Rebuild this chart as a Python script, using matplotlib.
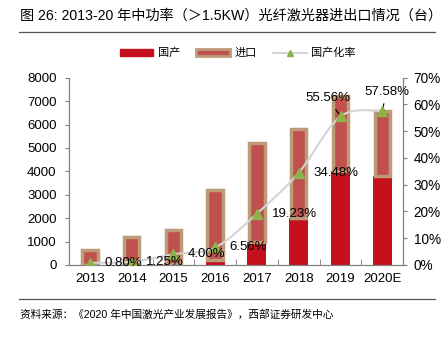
import numpy as np
import matplotlib
matplotlib.use("Agg")
import matplotlib.pyplot as plt
from matplotlib.path import Path
from matplotlib.patches import PathPatch, Patch
from matplotlib.lines import Line2D

plt.rcParams['font.family'] = ['Liberation Sans', 'Noto Sans CJK SC']

years = ['2013', '2014', '2015', '2016', '2017', '2018', '2019', '2020E']
domestic = [5, 15, 60, 210, 1000, 2000, 4000, 3800]
imports = [620, 1185, 1440, 2990, 4200, 3800, 3200, 2800]
rate = [0.80, 1.25, 4.00, 6.56, 19.23, 34.48, 55.56, 57.58]
rate_labels = ['0.80%', '1.25%', '4.00%', '6.56%', '19.23%', '34.48%', '55.56%', '57.58%']

RED = '#C4111D'
IMP = '#C0504D'
EDGE = '#BD9B77'
GREEN = '#8CB24A'
GRAY = '#808080'


def smooth_path(xs, ys):
    # catmull-rom style bezier through the points
    pts = np.column_stack([xs, ys])
    verts = [pts[0]]
    codes = [Path.MOVETO]
    n = len(pts)
    for i in range(n - 1):
        p0 = pts[max(i - 1, 0)]
        p1 = pts[i]
        p2 = pts[i + 1]
        p3 = pts[min(i + 2, n - 1)]
        c1 = p1 + (p2 - p0) / 6.0
        c2 = p2 - (p3 - p1) / 6.0
        verts += [c1, c2, p2]
        codes += [Path.CURVE4] * 3
    return Path(verts, codes)


fig = plt.figure(figsize=(4.45, 3.38), dpi=100)
ax = fig.add_axes([0.155, 0.216, 0.751, 0.554])
ax2 = ax.twinx()

x = np.arange(len(years))
ax.bar(x, domestic, width=0.455, color=RED, zorder=2)
ax.bar(x, imports, bottom=domestic, width=0.37, color=IMP,
       edgecolor=EDGE, linewidth=2.5, zorder=3)

ax.set_xlim(-0.5, len(years) - 0.5)
ax.set_ylim(0, 8000)
ax.set_yticks(range(0, 8001, 1000))
ax.set_xticks(x)
ax.set_xticklabels(years, fontsize=9.5)
ax.set_xticks(np.arange(0.5, len(years) - 1, 1), minor=True)
ax.tick_params(axis='x', which='major', length=0, pad=6)
ax.tick_params(axis='x', which='minor', direction='in', length=4, color=GRAY)
ax.tick_params(axis='y', direction='out', length=3, color=GRAY, labelsize=9.5, pad=6)

ax2.set_ylim(0, 70)
ax2.set_yticks(range(0, 71, 10))
ax2.set_yticklabels([f'{v}%' for v in range(0, 71, 10)])
ax2.tick_params(axis='y', direction='out', length=3, color=GRAY, labelsize=9.8, pad=4.5)

for a in (ax, ax2):
    a.spines['top'].set_visible(False)
    for s in ('left', 'right', 'bottom'):
        a.spines[s].set_color(GRAY)
        a.spines[s].set_linewidth(0.8)

ax2.add_patch(PathPatch(smooth_path(x, rate), fill=False, edgecolor='#D4D4D4',
                        linewidth=1.5, zorder=4))
ax2.plot(x, rate, linestyle='none', marker='^', markersize=7,
         color=GREEN, zorder=5)

for i in range(6):
    ax2.annotate(rate_labels[i], (x[i], rate[i]), xytext=(10.5, 0),
                 textcoords='offset points', ha='left', va='center',
                 fontsize=9.5, zorder=6)
ax2.annotate(rate_labels[6], (x[6], rate[6]), xytext=(-9, 13),
             textcoords='offset points', ha='center', va='center', fontsize=9.5,
             arrowprops=dict(arrowstyle='-', color='black', lw=0.8, shrinkA=2, shrinkB=2))
ax2.annotate(rate_labels[7], (x[7], rate[7]), xytext=(3, 13.5),
             textcoords='offset points', ha='center', va='center', fontsize=9.5,
             arrowprops=dict(arrowstyle='-', color='black', lw=0.8, shrinkA=2, shrinkB=2))

handles = [Patch(facecolor=RED, edgecolor=RED),
           Patch(facecolor=IMP, edgecolor=EDGE, linewidth=2),
           Line2D([0], [0], color='#D4D4D4', lw=1.5, marker='^', markersize=5,
                  markerfacecolor=GREEN, markeredgecolor=GREEN)]
fig.legend(handles, ['国产', '进口', '国产化率'], loc='center', ncol=3,
           bbox_to_anchor=(0.534, 0.843), frameon=False, fontsize=8,
           handlelength=3.0, handleheight=0.6, columnspacing=1.5, handletextpad=0.4)

fig.text(0.045, 0.955, '图 26: 2013-20 年中功率（＞1.5KW）光纤激光器进出口情况（台）',
         fontsize=10.2, va='center', ha='left')
fig.add_artist(Line2D([0.043, 0.978], [0.905, 0.905], color='#555555', lw=0.9))
fig.add_artist(Line2D([0.043, 0.978], [0.115, 0.115], color='#555555', lw=0.9))
fig.text(0.045, 0.07, '资料来源：《2020 年中国激光产业发展报告》，西部证券研发中心',
         fontsize=7.7, va='center', ha='left')

fig.savefig('out.png', dpi=100)
